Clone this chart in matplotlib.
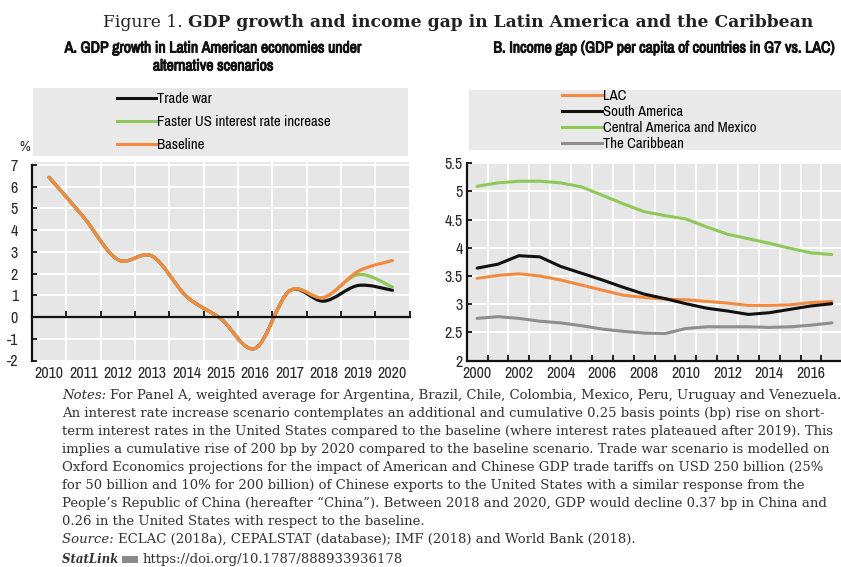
import numpy as np
import matplotlib
matplotlib.use('Agg')
import matplotlib.pyplot as plt
import matplotlib.patheffects as pe
from matplotlib.path import Path
from matplotlib.patches import PathPatch, Rectangle
from matplotlib.lines import Line2D
from matplotlib.ticker import FormatStrFormatter

plt.rcParams['axes.unicode_minus'] = False

# Panel A: GDP growth scenarios (%)
years_a = ['2010', '2011', '2012', '2013', '2014', '2015', '2016', '2017', '2018', '2019', '2020']
baseline = [6.42, 4.6, 2.64, 2.8, 0.95, -0.08, -1.44, 1.2, 0.9, 2.1, 2.6]
faster_us = [6.42, 4.6, 2.64, 2.8, 0.95, -0.08, -1.44, 1.2, 0.9, 1.95, 1.38]
trade_war = [6.42, 4.6, 2.64, 2.8, 0.95, -0.08, -1.44, 1.2, 0.73, 1.45, 1.23]

# Panel B: income gap, GDP per capita G7 vs LAC
years_b = [str(y) for y in range(2000, 2018)]
lac = [3.46, 3.51, 3.54, 3.50, 3.43, 3.34, 3.25, 3.16, 3.12, 3.09, 3.08, 3.05, 3.02, 2.98, 2.98, 2.99, 3.03, 3.05]
south_am = [3.64, 3.71, 3.86, 3.84, 3.67, 3.55, 3.43, 3.30, 3.18, 3.10, 3.01, 2.93, 2.88, 2.82, 2.85, 2.91, 2.97, 3.01]
central_am = [5.09, 5.15, 5.18, 5.18, 5.15, 5.08, 4.93, 4.78, 4.64, 4.57, 4.51, 4.37, 4.24, 4.16, 4.08, 3.99, 3.91, 3.88]
caribbean = [2.75, 2.78, 2.75, 2.70, 2.67, 2.62, 2.56, 2.52, 2.49, 2.48, 2.57, 2.60, 2.60, 2.60, 2.59, 2.60, 2.63, 2.67]

ORANGE = '#f28b40'
GREEN = '#8dc858'
BLACK = '#111111'
GREY = '#8e8e8e'
PANEL_BG = '#e6e6e6'
LEG_BG = '#e9e9e9'
NARROW = ['Archivo Narrow', 'DejaVu Sans']
SERIF = ['DejaVu Serif']
TXT = '#2a2a2a'

W, H = 841, 567
fig = plt.figure(figsize=(W / 100, H / 100), dpi=100, facecolor='white')


def fx(px):
    return px / W


def fy(py):
    return 1 - py / H


def smooth_path(x, y):
    # Catmull-Rom curve through the points, as cubic Bezier segments
    pts = np.column_stack([np.asarray(x, float), np.asarray(y, float)])
    ext = np.vstack([pts[0], pts, pts[-1]])
    verts = [pts[0]]
    codes = [Path.MOVETO]
    for i in range(len(pts) - 1):
        p0, p1, p2, p3 = ext[i], ext[i + 1], ext[i + 2], ext[i + 3]
        verts += [p1 + (p2 - p0) / 6, p2 - (p3 - p1) / 6, p2]
        codes += [Path.CURVE4] * 3
    return Path(verts, codes)


def legend_box(rect):
    lax = fig.add_axes(rect)
    lax.set_facecolor(LEG_BG)
    lax.set_xticks([])
    lax.set_yticks([])
    for s in lax.spines.values():
        s.set_visible(False)
    return lax


def narrow_labels(labels):
    for lab in labels:
        lab.set_family(NARROW)


def style_axes(ax):
    ax.set_facecolor(PANEL_BG)
    ax.set_axisbelow(True)
    ax.grid(True, color='white', lw=1.3)
    for s in ['top', 'right']:
        ax.spines[s].set_visible(False)
    for s in ['left', 'bottom']:
        ax.spines[s].set_linewidth(1.6)
        ax.spines[s].set_color('#111111')
    ax.tick_params(which='major', direction='in', length=3.5, width=1.3, color='#111111',
                   labelsize=11.5, labelcolor=TXT)


# bold look for the narrow face, which ships a single weight
BOLD = [pe.withStroke(linewidth=0.7, foreground='#111111')]

# ---------------- Panel A ----------------
axA = fig.add_axes([fx(32), fy(360.5), fx(409.6 - 32), (360.5 - 162) / H])
style_axes(axA)
xa = np.arange(len(years_a))
axA.set_xlim(-0.5, len(years_a) - 0.5)
axA.set_ylim(-2, 7.13)
axA.spines['left'].set_bounds(-2, 7)
axA.spines['bottom'].set_position(('data', 0))
axA.set_xticks(np.arange(0.5, len(years_a), 1))
axA.tick_params(axis='x', labelbottom=False, length=4.5)
axA.set_yticks(range(-2, 8))
axA.tick_params(axis='y', pad=10)
narrow_labels(axA.get_yticklabels())

for vals, col in [(trade_war, BLACK), (faster_us, GREEN), (baseline, ORANGE)]:
    axA.add_patch(PathPatch(smooth_path(xa, vals), fill=False, edgecolor=col, lw=2.3,
                            capstyle='round', joinstyle='round'))

secA = axA.secondary_xaxis('bottom')
secA.set_xticks(xa, labels=years_a)
secA.tick_params(length=0, pad=4, labelsize=11.5, labelcolor=TXT)
secA.spines['bottom'].set_visible(False)
narrow_labels(secA.get_xticklabels())

fig.text(fx(25), fy(147), '%', ha='center', va='center', fontsize=10.5, color=TXT, family=NARROW)

legA = legend_box([fx(33), fy(156), fx(408 - 33), 68 / H])
handles_a = [Line2D([], [], color=BLACK, lw=2.2),
             Line2D([], [], color=GREEN, lw=2.2),
             Line2D([], [], color=ORANGE, lw=2.2)]
legA.legend(handles_a, ['Trade war', 'Faster US interest rate increase', 'Baseline'],
            loc='center left', bbox_to_anchor=(0.224, 0.5), frameon=False, borderaxespad=0,
            borderpad=0, handlelength=2.6, handletextpad=0.12, labelspacing=0.62,
            prop={'family': NARROW, 'size': 10.7})

# ---------------- Panel B ----------------
axB = fig.add_axes([fx(466.7), fy(360.7), fx(20.87 * 18), (360.7 - 162) / H])
style_axes(axB)
xb = np.arange(len(years_b))
axB.set_xlim(-0.5, len(years_b) - 0.5)
axB.set_ylim(2, 5.52)
axB.spines['left'].set_bounds(2, 5.5)
axB.set_xticks(np.arange(0.5, len(years_b), 1))
axB.set_xticks(xb[::2], labels=years_b[::2], minor=True)
axB.tick_params(axis='x', which='major', labelbottom=False, length=4)
axB.tick_params(axis='x', which='minor', length=0, pad=4, labelsize=11.5, labelcolor=TXT)
axB.set_yticks(np.arange(2, 5.51, 0.5))
axB.yaxis.set_major_formatter(FormatStrFormatter('%g'))
axB.tick_params(axis='y', pad=3)
narrow_labels(axB.get_xticklabels(minor=True) + axB.get_yticklabels())

for vals, col in [(caribbean, GREY), (central_am, GREEN), (lac, ORANGE), (south_am, BLACK)]:
    axB.plot(xb, vals, color=col, lw=2.2, solid_capstyle='round', solid_joinstyle='round')

legB = legend_box([fx(469), fy(150), fx(841 - 469) + 0.01, 60 / H])
handles_b = [Line2D([], [], color=ORANGE, lw=2.2),
             Line2D([], [], color=BLACK, lw=2.2),
             Line2D([], [], color=GREEN, lw=2.2),
             Line2D([], [], color=GREY, lw=2.2)]
legB.legend(handles_b, ['LAC', 'South America', 'Central America and Mexico', 'The Caribbean'],
            loc='center left', bbox_to_anchor=(0.245, 0.5), frameon=False, borderaxespad=0,
            borderpad=0, handlelength=2.7, handletextpad=0.08, labelspacing=0.14,
            prop={'family': NARROW, 'size': 10.6})

# ---------------- Titles and notes ----------------
renderer = fig.canvas.get_renderer()


def text_runs(x, y, parts, **common):
    # draw consecutive pieces of text with different styles on one line
    for s, kw in parts:
        t = fig.text(x, y, s, va='baseline', ha='left', **common, **kw)
        bb = t.get_window_extent(renderer=renderer)
        x += bb.width / W
    return x


text_runs(fx(103), fy(27), [('Figure 1. ', {}), ('GDP growth and income gap in Latin America and the Caribbean',
                                              {'weight': 'bold'})],
          family=SERIF, fontsize=12.35, color='#222222')

title_kw = dict(ha='center', va='center', family=NARROW, fontsize=11.4, color='#111111', path_effects=BOLD)
fig.text(fx(213), fy(48), 'A. GDP growth in Latin American economies under', **title_kw)
fig.text(fx(213), fy(66), 'alternative scenarios', **title_kw)
fig.text(fx(664), fy(48), 'B. Income gap (GDP per capita of countries in G7 vs. LAC)', **title_kw)

note_lines = [
    [('Notes: ', {'style': 'italic'}),
     ('For Panel A, weighted average for Argentina, Brazil, Chile, Colombia, Mexico, Peru, Uruguay and Venezuela.', {})],
    [('An interest rate increase scenario contemplates an additional and cumulative 0.25 basis points (bp) rise on short-', {})],
    [('term interest rates in the United States compared to the baseline (where interest rates plateaued after 2019). This', {})],
    [('implies a cumulative rise of 200 bp by 2020 compared to the baseline scenario. Trade war scenario is modelled on', {})],
    [('Oxford Economics projections for the impact of American and Chinese GDP trade tariffs on USD 250 billion (25%', {})],
    [('for 50 billion and 10% for 200 billion) of Chinese exports to the United States with a similar response from the', {})],
    [('People\u2019s Republic of China (hereafter \u201cChina\u201d). Between 2018 and 2020, GDP would decline 0.37 bp in China and', {})],
    [('0.26 in the United States with respect to the baseline.', {})],
    [('Source: ', {'style': 'italic'}),
     ('ECLAC (2018a), CEPALSTAT (database); IMF (2018) and World Bank (2018).', {})],
]
for i, parts in enumerate(note_lines):
    text_runs(fx(62), fy(399 + 18 * i), parts, family=SERIF, fontsize=9.55, color='#333333')

xs = text_runs(fx(62), fy(563), [('StatLink ', {'style': 'italic', 'weight': 'bold'})],
               family=SERIF, fontsize=8.5, color='#333333')
fig.patches.append(Rectangle((xs, fy(563)), fx(16), 7 / H, transform=fig.transFigure,
                             facecolor='#8a8a8a', edgecolor='none'))
text_runs(xs + fx(20), fy(563), [('https://doi.org/10.1787/888933936178', {})],
          family=SERIF, fontsize=9.55, color='#333333')

fig.savefig('out.png', dpi=100, facecolor='white')
